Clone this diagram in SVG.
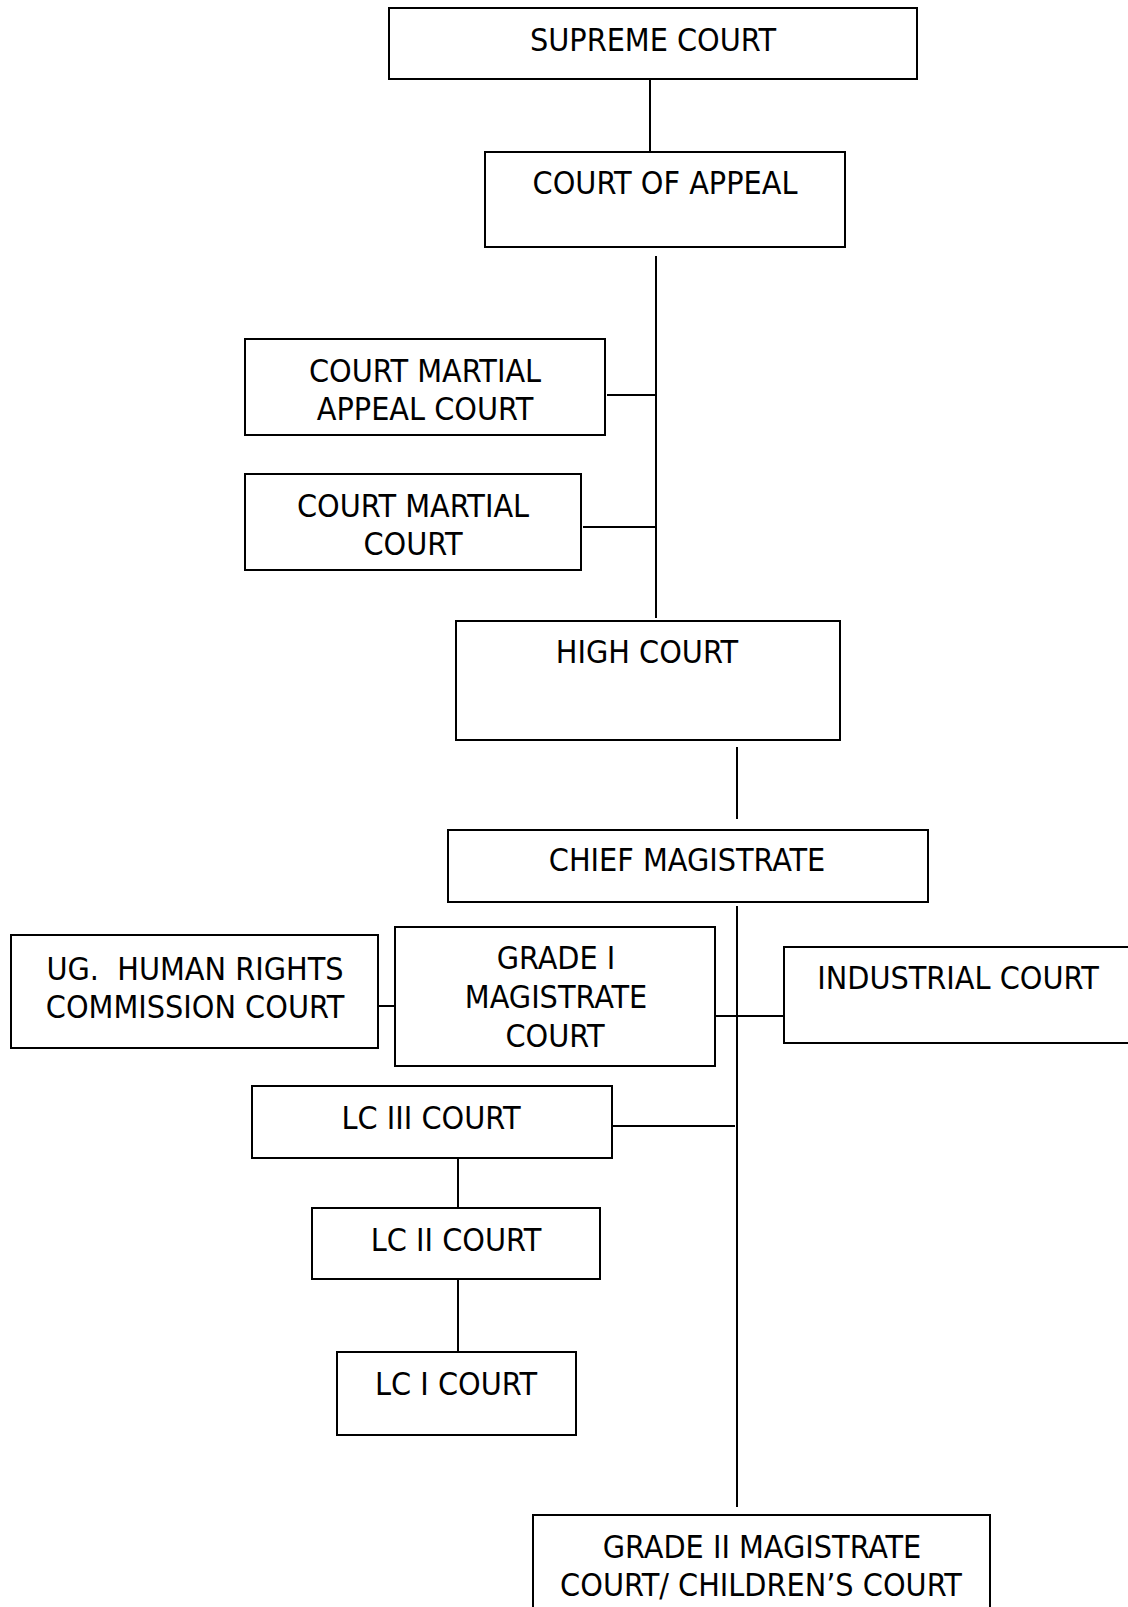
<svg xmlns="http://www.w3.org/2000/svg" width="1128" height="1607" viewBox="0 0 1128 1607">
<style>
.box{fill:#fff;stroke:#000;stroke-width:2}
.ln{stroke:#000;stroke-width:2;fill:none}
text{font-family:'DejaVu Sans Condensed','DejaVu Sans',sans-serif;font-stretch:condensed;font-size:32px;fill:#000;text-anchor:middle}
</style>
<rect width="1128" height="1607" fill="#fff"/>
<g id="connectors">
<line class="ln" x1="650" y1="79" x2="650" y2="152"/>
<line class="ln" x1="656" y1="256" x2="656" y2="618"/>
<line class="ln" x1="607" y1="395" x2="656" y2="395"/>
<line class="ln" x1="583" y1="527" x2="656" y2="527"/>
<line class="ln" x1="737" y1="747" x2="737" y2="819"/>
<line class="ln" x1="737" y1="906" x2="737" y2="1507"/>
<line class="ln" x1="372" y1="1006" x2="397" y2="1006"/>
<line class="ln" x1="715" y1="1016" x2="789" y2="1016"/>
<line class="ln" x1="612" y1="1126" x2="735" y2="1126"/>
<line class="ln" x1="458" y1="1158" x2="458" y2="1208"/>
<line class="ln" x1="458" y1="1279" x2="458" y2="1352"/>
</g>
<g id="supreme-court"><rect class="box" x="389" y="8" width="528" height="71"/><text x="653" y="51">SUPREME COURT</text></g>
<g id="court-of-appeal"><rect class="box" x="485" y="152" width="360" height="95"/><text x="665" y="194">COURT OF APPEAL</text></g>
<g id="court-martial-appeal"><rect class="box" x="245" y="339" width="360" height="96"/><text x="425" y="382">COURT MARTIAL</text><text x="425" y="420">APPEAL COURT</text></g>
<g id="court-martial"><rect class="box" x="245" y="474" width="336" height="96"/><text x="413" y="517">COURT MARTIAL</text><text x="413" y="555">COURT</text></g>
<g id="high-court"><rect class="box" x="456" y="621" width="384" height="119"/><text x="647" y="663">HIGH COURT</text></g>
<g id="chief-magistrate"><rect class="box" x="448" y="830" width="480" height="72"/><text x="687" y="871">CHIEF MAGISTRATE</text></g>
<g id="ug-human-rights"><rect class="box" x="11" y="935" width="367" height="113"/><text x="195" y="980" xml:space="preserve">UG.  HUMAN RIGHTS</text><text x="195" y="1018">COMMISSION COURT</text></g>
<g id="grade-i"><rect class="box" x="395" y="927" width="320" height="139"/><text x="556" y="969">GRADE I</text><text x="556" y="1008">MAGISTRATE</text><text x="555" y="1047">COURT</text></g>
<g id="industrial-court"><rect class="box" x="784" y="947" width="360" height="96"/><text x="958" y="989">INDUSTRIAL COURT</text></g>
<g id="lc-iii"><rect class="box" x="252" y="1086" width="360" height="72"/><text x="431" y="1129">LC III COURT</text></g>
<g id="lc-ii"><rect class="box" x="312" y="1208" width="288" height="71"/><text x="456" y="1251">LC II COURT</text></g>
<g id="lc-i"><rect class="box" x="337" y="1352" width="239" height="83"/><text x="456" y="1395">LC I COURT</text></g>
<g id="grade-ii"><rect class="box" x="533" y="1515" width="457" height="110"/><text x="762" y="1558">GRADE II MAGISTRATE</text><text x="761" y="1596">COURT/ CHILDREN’S COURT</text></g>
</svg>
